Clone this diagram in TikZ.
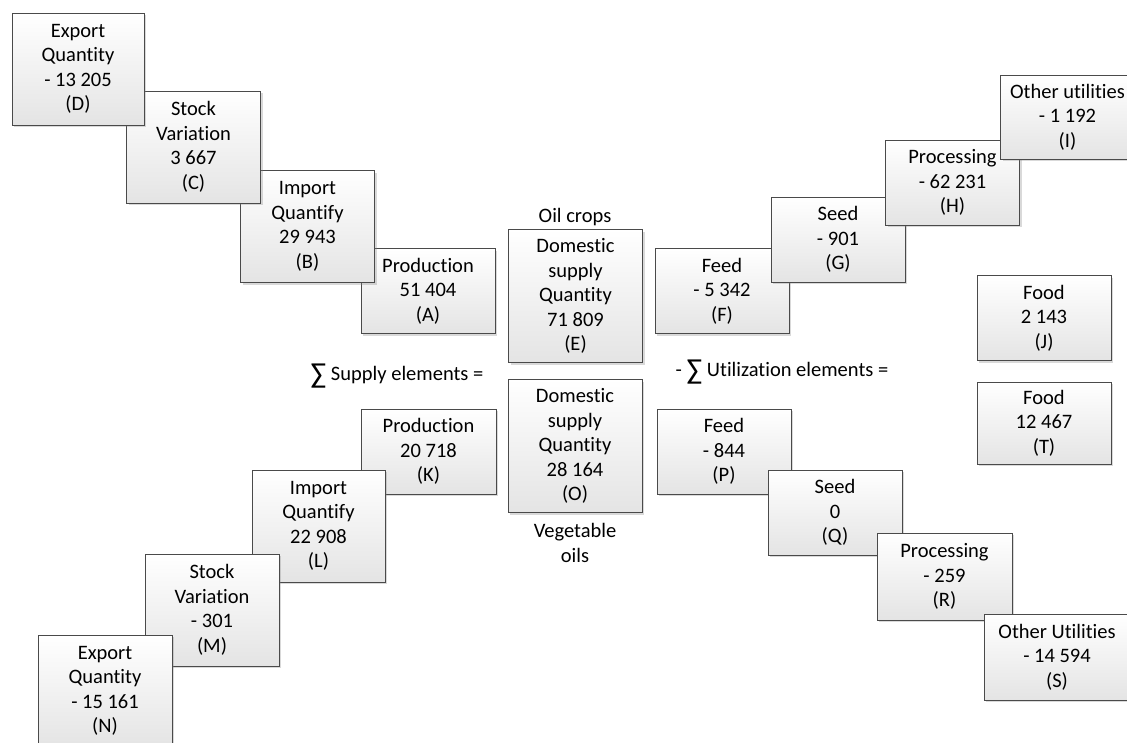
\documentclass[tikz,border=0pt]{standalone}
\usepackage{fontspec}
\setmainfont{Carlito}[Ligatures=NoCommon]
\usetikzlibrary{shadows}
\definecolor{edge}{HTML}{4A4A4A}
\definecolor{shadebot}{HTML}{E4E4E4}
\newcommand{\bigsum}{\raisebox{-3.5pt}{\fontsize{29}{24}\selectfont ∑}}
\tikzset{
  box/.style={draw=edge, line width=0.9pt, top color=white, bottom color=shadebot,
    minimum width=134pt, align=center, inner sep=0pt,
    font=\fontsize{20.5}{24.5}\selectfont,
    drop shadow={shadow xshift=2pt, shadow yshift=-2pt, opacity=0.3, fill=gray}},
  three/.style={box, minimum height=85pt},
  four/.style={box, minimum height=112pt},
  five/.style={box, minimum height=133pt},
  label/.style={align=center, inner sep=0pt, font=\fontsize{20.5}{24.5}\selectfont}
}
\begin{document}
\begin{tikzpicture}[x=1pt,y=-1pt]
\useasboundingbox (0,0) rectangle (1127,742);
\clip (0,0) rectangle (1127,742);
% top-left staircase (upper boxes on top)
\node[three] (A) at (428,291) {Production\\51 404\\(A)};
\node[four] (B) at (307.5,226.5) {Import\\Quantify\\29 943\\(B)};
\node[four] (C) at (193.5,147) {Stock\\Variation\\3 667\\(C)};
\node[four, minimum width=132pt] (D) at (78,69) {Export\\Quantity\\- 13 205\\(D)};
% centre
\node[label] (oil) at (575,217) {Oil crops};
\node[five] (E) at (575.5,296) {Domestic\\supply\\Quantity\\71 809\\(E)};
\node[five] (O) at (575,446) {Domestic\\supply\\Quantity\\28 164\\(O)};
\node[label] (veg) at (575,543) {Vegetable\\oils};
\node[label, anchor=base] (sup) at (397,380) {\bigsum\ Supply elements =};
\node[label, anchor=base] (util) at (782,376) {- \bigsum\ Utilization elements =};
% top-right staircase
\node[three] (F) at (722,291) {Feed\\- 5 342\\(F)};
\node[three] (G) at (838,239.5) {Seed\\- 901\\(G)};
\node[three] (H) at (952.5,182.5) {Processing\\- 62 231\\(H)};
\node[three, minimum height=84pt] (I) at (1067.5,117) {Other utilities\\- 1 192\\(I)};
% food
\node[three] (J) at (1044,318) {Food\\2 143\\(J)};
\node[three, minimum height=82pt] (T) at (1044,423) {Food\\12 467\\(T)};
% bottom-left staircase (lower boxes on top)
\node[three, minimum width=135pt] (K) at (428.5,451.5) {Production\\20 718\\(K)};
\node[four, minimum width=133pt] (L) at (318.5,526) {Import\\Quantify\\22 908\\(L)};
\node[four] (M) at (212,610) {Stock\\Variation\\- 301\\(M)};
\node[four] (N) at (105,691) {Export\\Quantity\\- 15 161\\(N)};
% bottom-right staircase
\node[three] (P) at (724,451.5) {Feed\\- 844\\(P)};
\node[three] (Q) at (835,512.5) {Seed\\0\\(Q)};
\node[three, minimum width=135pt, minimum height=87pt] (R) at (944.5,576.5) {Processing\\- 259\\(R)};
\node[three, minimum width=146pt, minimum height=86pt] (S) at (1057,657) {Other Utilities\\- 14 594\\(S)};
\end{tikzpicture}
\end{document}
